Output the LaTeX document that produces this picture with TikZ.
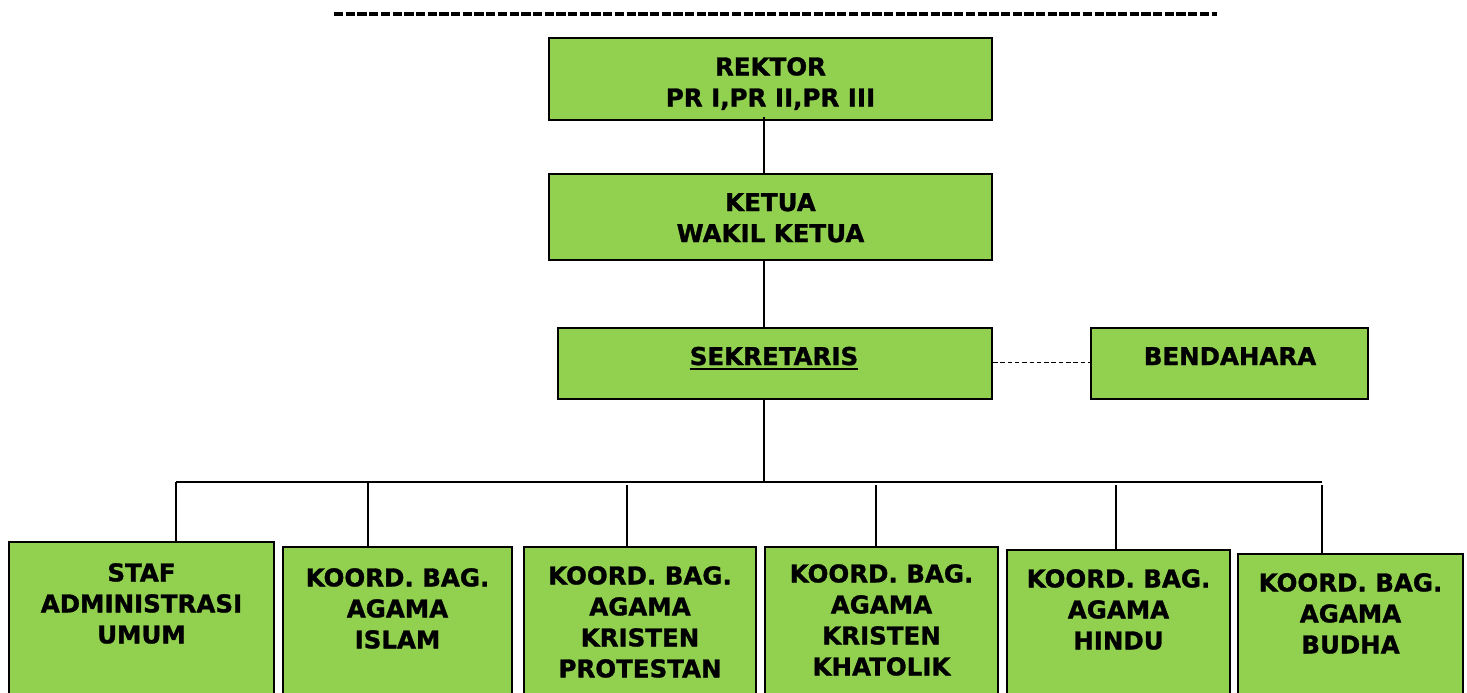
\documentclass[tikz,border=0pt]{standalone}
\usepackage{fontspec}
\setmainfont{DejaVu Sans}[BoldFeatures={FakeBold=1.2}]
\definecolor{boxgreen}{HTML}{92D050}
\begin{document}
\begin{tikzpicture}[x=1pt,y=-1pt,
  box/.style={draw=black, line width=2pt, fill=boxgreen, rectangle, inner sep=0pt, anchor=north west},
  lbl/.style={font=\bfseries\fontsize{24.5}{31}\selectfont, align=center, inner sep=0pt, text=black},
  conn/.style={draw=black, line width=1.8pt},
  dconn/.style={draw=black, line width=1.4pt, dash pattern=on 4.5pt off 2.8pt}]
\useasboundingbox (0,0) rectangle (1467,693);
\clip (0,0) rectangle (1467,693);
% top dashed rule
\coordinate (tl) at (334,14);
\coordinate (tr) at (1217,14);
\draw[line width=4pt, dash pattern=on 9.3pt off 2.4pt] (tl) -- (tr);
% upper boxes
\node[box, minimum width=443, minimum height=82] (rektor) at (548,37) {};
\node[lbl, anchor=north] (rektort) at (rektor.north |- 0,57) {REKTOR\\PR I,PR II,PR III};
\node[box, minimum width=443, minimum height=86] (ketua) at (548,173) {};
\node[lbl, anchor=north] (ketuat) at (ketua.north |- 0,193) {KETUA\\WAKIL KETUA};
\node[box, minimum width=434, minimum height=71] (sek) at (557,327) {};
\node[lbl, anchor=base] (sekt) at (774,365) {SEKRETARIS};
\draw[line width=2pt] ([yshift=-3.5pt]sekt.base west) -- ([yshift=-3.5pt]sekt.base east);
\node[box, minimum width=277, minimum height=71] (bend) at (1090,327) {};
\node[lbl, anchor=base] (bendt) at (1230,365) {BENDAHARA};
% bottom boxes
\node[box, minimum width=265, minimum height=170] (s1) at (8,541) {};
\node[box, minimum width=229, minimum height=170] (s2) at (282,546) {};
\node[box, minimum width=232, minimum height=170] (s3) at (523,546) {};
\node[box, minimum width=233, minimum height=170] (s4) at (764,546) {};
\node[box, minimum width=223, minimum height=170] (s5) at (1006,549) {};
\node[box, minimum width=225, minimum height=170] (s6) at (1237,553) {};
\node[lbl, anchor=north] (t1) at (s1.north |- 0,563) {STAF\\ADMINISTRASI\\UMUM};
\node[lbl, anchor=north] (t2) at (s2.north |- 0,568) {KOORD. BAG.\\AGAMA\\ISLAM};
\node[lbl, anchor=north] (t3) at (s3.north |- 0,566) {KOORD. BAG.\\AGAMA\\KRISTEN\\PROTESTAN};
\node[lbl, anchor=north] (t4) at (s4.north |- 0,564) {KOORD. BAG.\\AGAMA\\KRISTEN\\KHATOLIK};
\node[lbl, anchor=north] (t5) at (s5.north |- 0,569) {KOORD. BAG.\\AGAMA\\HINDU};
\node[lbl, anchor=north] (t6) at (s6.north |- 0,573) {KOORD. BAG.\\AGAMA\\BUDHA};
% connectors
\coordinate (trunk) at (764,482);
\coordinate (busL) at (176,482);
\coordinate (busR) at (1322,482);
\coordinate (d2) at (368,482);
\coordinate (d3) at (627,485);
\coordinate (d4) at (876,485);
\coordinate (d5) at (1116,485);
\coordinate (d6) at (1322,485);
\draw[conn] ([yshift=4pt]rektor.south -| trunk) -- (ketua.north -| trunk);
\draw[conn] (ketua.south -| trunk) -- (sek.north -| trunk);
\draw[conn] (sek.south -| trunk) -- (trunk);
\draw[conn] (busL) -- (busR);
\draw[conn] (busL) -- (busL |- s1.north);
\draw[conn] (d2) -- (d2 |- s2.north);
\draw[conn] (d3) -- (d3 |- s3.north);
\draw[conn] (d4) -- (d4 |- s4.north);
\draw[conn] (d5) -- (d5 |- s5.north);
\draw[conn] (d6) -- (d6 |- s6.north);
\draw[dconn] (sek.east |- 0,362.5) -- (bend.west |- 0,362.5);
\end{tikzpicture}
\end{document}
